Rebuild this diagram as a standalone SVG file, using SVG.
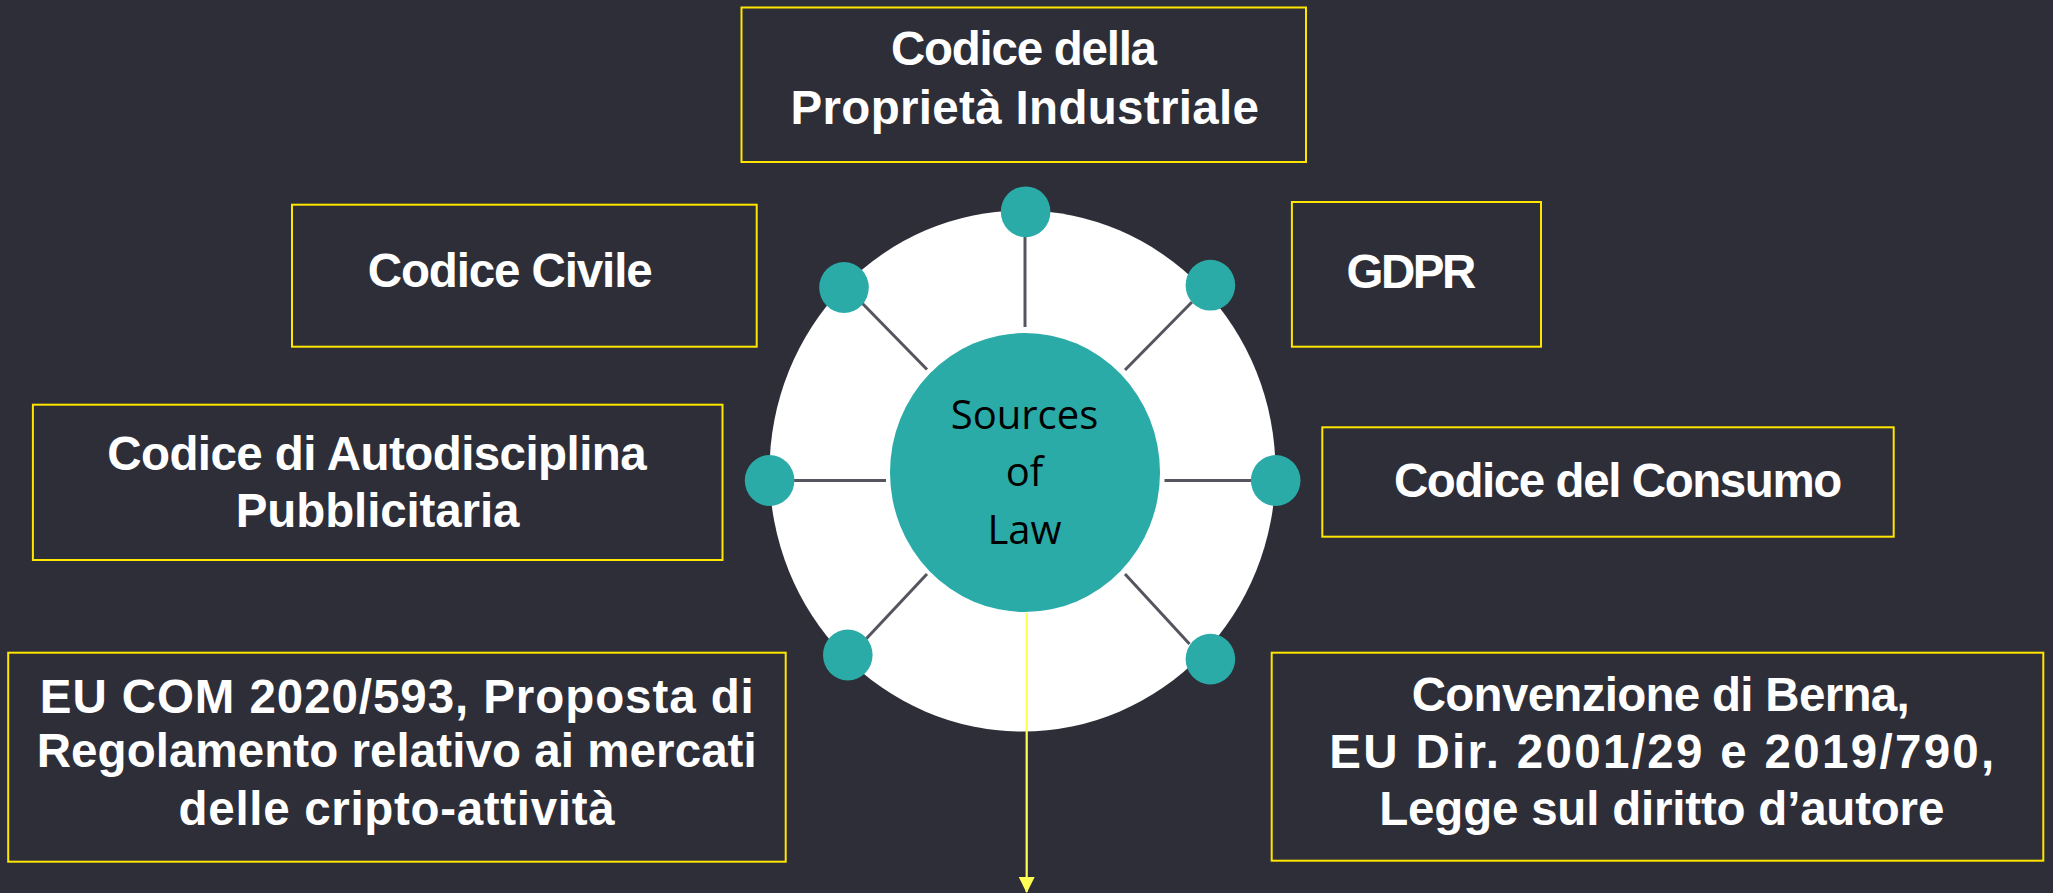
<svg xmlns="http://www.w3.org/2000/svg" width="2053" height="893" viewBox="0 0 2053 893">
  <defs>
    <style>
      .bg { fill: #2E2E38; }
      .box { fill: #2E2E38; stroke: #FFE600; stroke-width: 2; }
      .lbl { font-family: "Liberation Sans", Arial, sans-serif; font-weight: bold; font-size: 47.5px; fill: #FFFFFF; }
      .dot { fill: #2AABA8; }
      .spoke { stroke: #55555F; stroke-width: 3; fill: none; }
      .hub { fill: #2AABA8; }
      .ring { fill: #FFFFFF; }
      .hubtxt { font-family: "Open Sans", "Liberation Sans", sans-serif; font-size: 40px; fill: #000000; text-anchor: middle; }
      .arrow { stroke: #FFFF55; stroke-width: 2.2; fill: none; }
    </style>
    <marker id="arrowhead" markerWidth="16" markerHeight="16" refX="15" refY="8" orient="auto" markerUnits="userSpaceOnUse">
      <path d="M0,0 L16,8 L0,16 Z" fill="#FFFF55"/>
    </marker>
  </defs>

  <rect class="bg" x="0" y="0" width="2053" height="893"/>

  <!-- central wheel -->
  <g id="wheel">
    <ellipse class="ring" cx="1022.5" cy="471" rx="253" ry="260.5"/>
  </g>

  <!-- connectors -->
  <g id="connectors">
    <line class="spoke" x1="1025" y1="237" x2="1025" y2="327"/>
    <line class="spoke" x1="862" y1="303" x2="927" y2="369.5"/>
    <line class="spoke" x1="1192" y1="302" x2="1125" y2="370"/>
    <line class="spoke" x1="794" y1="480.5" x2="886" y2="480.5"/>
    <line class="spoke" x1="1164.5" y1="480.5" x2="1252" y2="480.5"/>
    <line class="spoke" x1="927" y1="574" x2="866" y2="639"/>
    <line class="spoke" x1="1125" y1="574" x2="1189.5" y2="644"/>
    <line class="arrow" x1="1026.7" y1="613" x2="1026.7" y2="892" marker-end="url(#arrowhead)"/>
  </g>

  <g id="hub">
    <ellipse class="hub" cx="1025" cy="472.5" rx="135" ry="139.5"/>
    <text class="hubtxt" x="1024.5" y="429">Sources</text>
    <text class="hubtxt" x="1024.5" y="486.4">of</text>
    <text class="hubtxt" x="1024.5" y="544.3">Law</text>
  </g>

  <g id="dots">
    <ellipse class="dot" cx="1025.6" cy="211.8" rx="24.8" ry="25.4"/>
    <ellipse class="dot" cx="844" cy="287.5" rx="24.8" ry="25.4"/>
    <ellipse class="dot" cx="1210.4" cy="285.2" rx="24.8" ry="25.4"/>
    <ellipse class="dot" cx="769.6" cy="480.5" rx="24.8" ry="25.4"/>
    <ellipse class="dot" cx="1275.7" cy="480.5" rx="24.8" ry="25.4"/>
    <ellipse class="dot" cx="847.8" cy="655" rx="24.8" ry="25.4"/>
    <ellipse class="dot" cx="1210.4" cy="659.1" rx="24.8" ry="25.4"/>
  </g>

  <!-- nodes -->
  <g id="node-proprieta-industriale">
    <rect class="box" x="741.5" y="7.5" width="564.5" height="154.5"/>
    <text class="lbl" x="891" y="65" textLength="266">Codice della</text>
    <text class="lbl" x="790.5" y="124" textLength="468.5">Proprietà Industriale</text>
  </g>

  <g id="node-codice-civile">
    <rect class="box" x="292" y="204.7" width="464.7" height="142"/>
    <text class="lbl" x="367.7" y="287" textLength="285">Codice Civile</text>
  </g>

  <g id="node-autodisciplina">
    <rect class="box" x="32.9" y="404.7" width="689.6" height="155.3"/>
    <text class="lbl" x="107.2" y="470" textLength="539.5">Codice di Autodisciplina</text>
    <text class="lbl" x="235.8" y="527.3" textLength="283.7">Pubblicitaria</text>
  </g>

  <g id="node-gdpr">
    <rect class="box" x="1291.9" y="202" width="249.1" height="144.7"/>
    <text class="lbl" x="1346.4" y="288.3" textLength="130">GDPR</text>
  </g>

  <g id="node-consumo">
    <rect class="box" x="1322.3" y="427.3" width="571.4" height="109.4"/>
    <text class="lbl" x="1393.9" y="496.7" textLength="448.4">Codice del Consumo</text>
  </g>

  <g id="node-eu-com">
    <rect class="box" x="8.2" y="652.7" width="777.5" height="209"/>
    <text class="lbl" x="39.8" y="713.3" textLength="714">EU COM 2020/593, Proposta di</text>
    <text class="lbl" x="36.7" y="767" textLength="720">Regolamento relativo ai mercati</text>
    <text class="lbl" x="178.6" y="825" textLength="436">delle cripto-attività</text>
  </g>

  <g id="node-berna">
    <rect class="box" x="1271.7" y="652.7" width="771.6" height="208"/>
    <text class="lbl" x="1411.7" y="711" textLength="498">Convenzione di Berna,</text>
    <text class="lbl" x="1329.3" y="767.7" textLength="665">EU Dir. 2001/29 e 2019/790,</text>
    <text class="lbl" x="1379.3" y="825" textLength="565">Legge sul diritto d’autore</text>
  </g>
</svg>
